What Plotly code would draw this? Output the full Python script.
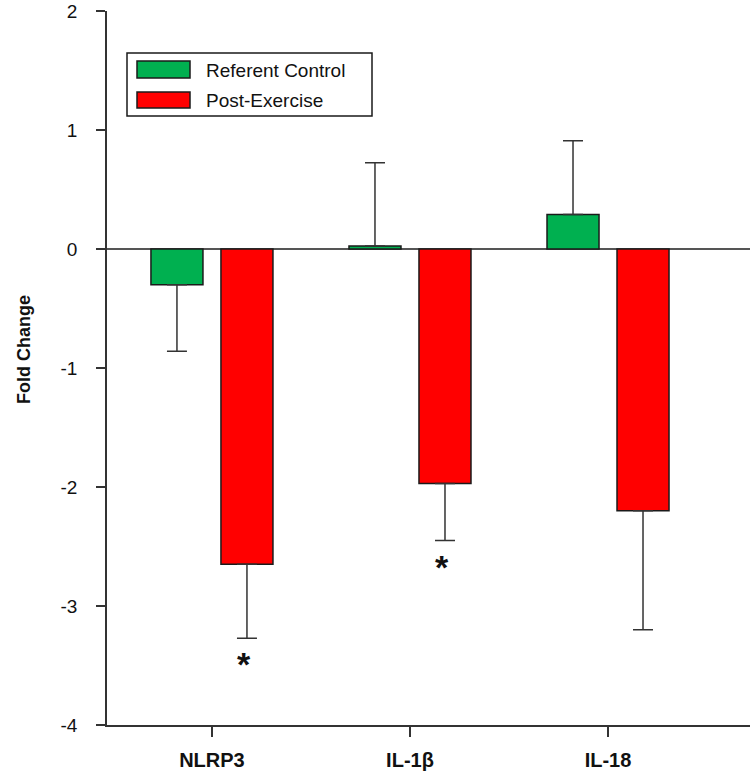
import plotly.graph_objects as go

# ---- data ----
categories = ["NLRP3", "IL-1β", "IL-18"]
control_vals = [-0.30, 0.025, 0.29]
control_err = [0.56, 0.70, 0.62]
post_vals = [-2.65, -1.97, -2.20]
post_err = [0.62, 0.48, 1.00]
significant = [True, True, False]
series_names = ["Referent Control", "Post-Exercise"]
y_ticks = [-4, -3, -2, -1, 0, 1, 2]
y_ticktext = [str(t) for t in y_ticks]

# ---- styles ----
GREEN = "#00B050"
RED = "#FF0000"
EDGE = "#1a1a1a"
AX = "#333333"
FONT = "Arial, Liberation Sans, sans-serif"

W, H = 750, 777
ML, MR, MT, MB = 107, 0, 11, 52
PW, PH = W - ML - MR, H - MT - MB


def px(x):  # page pixel x -> paper
    return (x - ML) / PW


def py(y):  # page pixel y -> paper
    return (H - MB - y) / PH


def err_split(vals, errs):
    up = [e if v >= 0 else 0 for v, e in zip(vals, errs)]
    down = [e if v < 0 else 0 for v, e in zip(vals, errs)]
    return up, down


fig = go.Figure()
for name, vals, errs, color in [
    (series_names[0], control_vals, control_err, GREEN),
    (series_names[1], post_vals, post_err, RED),
]:
    up, down = err_split(vals, errs)
    fig.add_trace(go.Bar(
        name=name, x=categories, y=vals,
        marker=dict(color=color, line=dict(color=EDGE, width=1.5)),
        error_y=dict(type="data", symmetric=False, array=up, arrayminus=down,
                     color=AX, thickness=1.5, width=10),
        showlegend=False,
    ))

# significance asterisks below the post-exercise error bars
for cat, v, e, s in zip(categories, post_vals, post_err, significant):
    if s:
        fig.add_annotation(x=cat, y=v - e, xref="x", yref="y", text="<b>*</b>",
                           showarrow=False, xshift=32, yshift=-26,
                           yanchor="middle",
                           font=dict(family=FONT, size=34, color="#111"))

# y axis title
fig.add_annotation(x=px(12), y=py(350), xref="paper", yref="paper",
                   text="<b>Fold Change</b>", textangle=-90, showarrow=False,
                   font=dict(family=FONT, size=18, color="#111"))

# custom legend
shapes = [
    dict(type="rect", xref="paper", yref="paper", x0=px(127), x1=px(372),
         y0=py(116), y1=py(53), line=dict(color=EDGE, width=1.5),
         fillcolor="white"),
    dict(type="rect", xref="paper", yref="paper", x0=px(137), x1=px(190),
         y0=py(78), y1=py(61), line=dict(color=EDGE, width=1.5),
         fillcolor=GREEN),
    dict(type="rect", xref="paper", yref="paper", x0=px(137), x1=px(190),
         y0=py(108), y1=py(92), line=dict(color=EDGE, width=1.5),
         fillcolor=RED),
]
for name, yc in zip(series_names, [70, 100]):
    fig.add_annotation(x=px(204), y=py(yc), xref="paper", yref="paper",
                       text=name, showarrow=False, xanchor="left",
                       yanchor="middle",
                       font=dict(family=FONT, size=19, color="#111"))

fig.update_layout(
    width=W, height=H,
    margin=dict(l=ML, r=MR, t=MT, b=MB, pad=0),
    paper_bgcolor="white", plot_bgcolor="white",
    barmode="group", bargap=0.293, bargroupgap=0.257,
    shapes=shapes,
    font=dict(family=FONT, color="#111"),
)
fig.update_xaxes(
    range=[-0.53, 2.717], showgrid=False, zeroline=False,
    showline=True, linecolor=AX, linewidth=1.5,
    ticks="outside", ticklen=10, tickwidth=1.5, tickcolor=AX,
    tickfont=dict(family=FONT, size=20, weight="bold", color="#111"),
    ticklabelstandoff=6,
)
fig.update_yaxes(
    range=[-4, 2], tickvals=y_ticks, ticktext=y_ticktext, showgrid=False,
    zeroline=True, zerolinecolor="#555555", zerolinewidth=1.5,
    showline=True, linecolor=AX, linewidth=1.5,
    ticks="outside", ticklen=9, tickwidth=1.5, tickcolor=AX,
    tickfont=dict(family=FONT, size=19, color="#111"),
    ticklabelstandoff=15, ticklabeloverflow="allow",
)

fig.write_html(
    "out.html",
    config={"displayModeBar": False},
    post_script="document.body.style.margin='0';document.body.style.overflow='hidden';",
)
